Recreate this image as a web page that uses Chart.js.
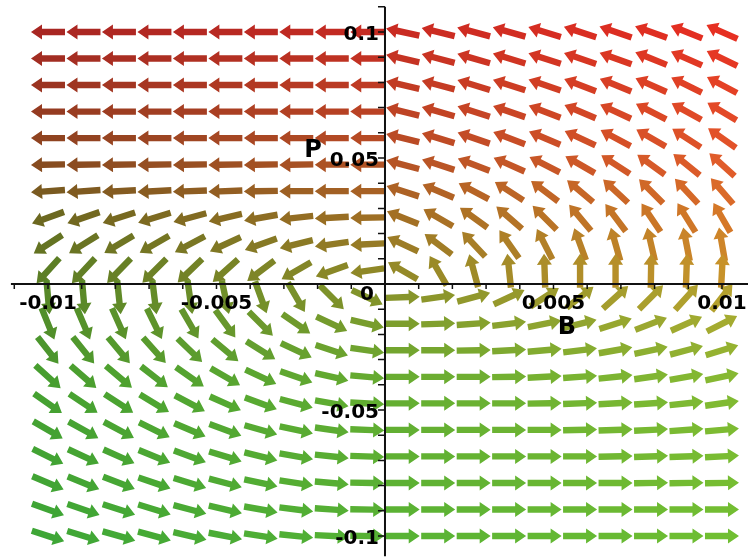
<!DOCTYPE html>
<html>
<head>
<meta charset="utf-8">
<script src="https://cdn.jsdelivr.net/npm/chart.js@4"></script>
<style>
  html, body { margin: 0; padding: 0; background: #ffffff; }
  #wrap { width: 748px; height: 560px; }
</style>
</head>
<body>
<div id="wrap"><canvas id="fieldChart" width="748" height="560"></canvas></div>
<script>
// grid of the direction field (B across, P down from the top)
const bValues = [-0.01, -0.008947, -0.007895, -0.006842, -0.005789, -0.004737, -0.003684, -0.002632, -0.001579, -0.000526,
                 0.000526, 0.001579, 0.002632, 0.003684, 0.004737, 0.005789, 0.006842, 0.007895, 0.008947, 0.01];
const pValues = [0.1, 0.089474, 0.078947, 0.068421, 0.057895, 0.047368, 0.036842, 0.026316, 0.015789, 0.005263,
                 -0.005263, -0.015789, -0.026316, -0.036842, -0.047368, -0.057895, -0.068421, -0.078947, -0.089474, -0.1];

// arrow direction in degrees (0 = right, 90 = up), one row per P value
const arrowAngles = [
  [180, 180, 180, 180, 180, 180, 180, 180, 180, 180, 168, 166, 165, 164, 163, 162, 161, 160, 158, 156],
  [180, 180, 180, 180, 180, 180, 180, 180, 180, 180, 167, 165, 164, 163, 162, 161, 160, 158, 156, 154],
  [180, 180, 180, 180, 180, 180, 180, 180, 180, 180, 167, 165, 163, 162, 161, 159, 158, 156, 154, 152],
  [180, 180, 180, 180, 180, 180, 180, 180, 180, 180, 166, 164, 162, 161, 159, 157, 155, 153, 151, 149],
  [180, 180, 180, 180, 180, 180, 180, 180, 180, 180, 166, 163, 161, 159, 157, 155, 152, 150, 147, 145],
  [181, 181, 181, 181, 181, 181, 181, 181, 180, 180, 165, 162, 159, 156, 153, 150, 147, 144, 141, 138],
  [184, 184, 183, 183, 182, 182, 181, 180, 180, 180, 162, 157, 152, 147, 143, 140, 137, 135, 133, 131],
  [200, 199, 198, 197, 195, 193, 190, 186, 183, 181, 158, 150, 144, 139, 135, 130, 127, 124, 122, 120],
  [213, 212, 211, 210, 208, 205, 200, 194, 188, 183, 155, 143, 133, 125, 117, 110, 106, 103, 101, 100],
  [228, 227, 226, 225, 224, 222, 217, 210, 200, 188, 150, 120, 105,  96,  92,  90,  90,  89,  88,  87],
  [275, 275, 276, 277, 278, 282, 290, 300, 315, 335,   2,   8,  15,  25,  33,  38,  42,  45,  48,  52],
  [292, 293, 294, 296, 300, 306, 315, 325, 335, 347,   0,   2,   4,   7,  11,  14,  18,  21,  24,  27],
  [308, 309, 310, 312, 316, 320, 328, 335, 342, 352,   0,   0,   1,   3,   5,   7,  10,  12,  15,  17],
  [318, 319, 320, 322, 325, 330, 335, 341, 347, 355,   0,   0,   0,   1,   3,   4,   6,   8,  10,  12],
  [325, 326, 327, 329, 332, 336, 340, 345, 350, 357,   0,   0,   0,   0,   1,   2,   3,   4,   6,   8],
  [330, 331, 332, 334, 337, 340, 344, 348, 352, 358,   0,   0,   0,   0,   0,   1,   2,   3,   4,   5],
  [334, 335, 336, 338, 340, 343, 346, 350, 354, 358,   0,   0,   0,   0,   0,   0,   1,   2,   2,   3],
  [337, 338, 339, 341, 343, 345, 348, 351, 355, 359,   0,   0,   0,   0,   0,   0,   0,   1,   1,   1],
  [340, 341, 342, 343, 345, 347, 350, 353, 356, 359,   0,   0,   0,   0,   0,   0,   0,   0,   0,   0],
  [342, 343, 344, 345, 347, 349, 351, 354, 357, 359,   0,   0,   0,   0,   0,   0,   0,   0,   0,   0]
];

const xTickValues = [-0.01, -0.005, 0, 0.005, 0.01];
const xTickLabels = ['-0.01', '-0.005', '0', '0.005', '0.01'];
const yTickValues = [0.1, 0.05, -0.05, -0.1];
const yTickLabels = ['0.1', '0.05', '-0.05', '-0.1'];

const points = [];
pValues.forEach((p, r) => {
    bValues.forEach((b, c) => {
        points.push({ x: b, y: p, angle: arrowAngles[r][c], s: c / (bValues.length - 1), t: 1 - r / (pValues.length - 1) });
    });
});

// colour ramps along P for the left and right edge, blended across B
const leftStops = [[0, [62, 166, 54]], [0.3, [70, 160, 48]], [0.5, [88, 132, 38]], [0.63, [108, 104, 32]], [0.75, [138, 72, 32]], [1, [168, 38, 34]]];
const rightStops = [[0, [112, 190, 50]], [0.3, [130, 186, 50]], [0.45, [172, 168, 48]], [0.53, [200, 145, 42]], [0.65, [215, 115, 40]], [0.75, [225, 88, 42]], [1, [230, 48, 34]]];

function ramp(stops, t) {
    for (let i = 1; i < stops.length; i++) {
        if (t <= stops[i][0]) {
            const [t0, c0] = stops[i - 1];
            const [t1, c1] = stops[i];
            const f = (t - t0) / (t1 - t0);
            return c0.map((v, k) => v + (c1[k] - v) * f);
        }
    }
    return stops[stops.length - 1][1];
}

function arrowColor(s, t) {
    const a = ramp(leftStops, t);
    const b = ramp(rightStops, t);
    const c = a.map((v, k) => Math.round(v + (b[k] - v) * s));
    return `rgb(${c[0]},${c[1]},${c[2]})`;
}

function arrowPath(ctx, len) {
    const h = len / 2, hl = 11, hw = 7.5, sw = 3.2;
    ctx.beginPath();
    ctx.moveTo(-h, -sw);
    ctx.lineTo(h - hl, -sw);
    ctx.lineTo(h - hl, -hw);
    ctx.lineTo(h, 0);
    ctx.lineTo(h - hl, hw);
    ctx.lineTo(h - hl, sw);
    ctx.lineTo(-h, sw);
    ctx.closePath();
}

const arrowsPlugin = {
    id: 'arrows',
    afterDatasetsDraw(chart) {
        const ctx = chart.ctx;
        const meta = chart.getDatasetMeta(0);
        ctx.save();
        ctx.filter = 'blur(0.6px)';
        meta.data.forEach((el, i) => {
            const pt = points[i];
            ctx.save();
            ctx.translate(el.x, el.y);
            ctx.rotate(-pt.angle * Math.PI / 180);
            arrowPath(ctx, 34);
            ctx.fillStyle = arrowColor(pt.s, pt.t);
            ctx.fill();
            ctx.restore();
        });
        ctx.restore();
    }
};

const axesPlugin = {
    id: 'axesThroughOrigin',
    afterDraw(chart) {
        const ctx = chart.ctx;
        const xs = chart.scales.x;
        const ys = chart.scales.y;
        const ox = xs.getPixelForValue(0);
        const oy = ys.getPixelForValue(0);
        ctx.save();
        ctx.strokeStyle = '#111';
        ctx.lineWidth = 2;
        ctx.beginPath();
        ctx.moveTo(xs.getPixelForValue(-0.0111), oy);
        ctx.lineTo(xs.right, oy);
        ctx.moveTo(ox, ys.getPixelForValue(0.11));
        ctx.lineTo(ox, ys.getPixelForValue(-0.108));
        ctx.stroke();

        ctx.lineWidth = 1.5;
        ctx.beginPath();
        for (let k = -11; k <= 10; k++) {
            if (k === 0) continue;
            const px = xs.getPixelForValue(k * 0.001);
            ctx.moveTo(px, oy);
            ctx.lineTo(px, oy + 5);
        }
        for (let k = -10; k <= 11; k++) {
            if (k === 0) continue;
            const py = ys.getPixelForValue(k * 0.01);
            ctx.moveTo(ox - 7, py);
            ctx.lineTo(ox, py);
        }
        ctx.stroke();

        ctx.fillStyle = '#000';
        ctx.font = 'bold 20px "DejaVu Sans"';
        ctx.textBaseline = 'middle';
        xTickValues.forEach((v, i) => {
            if (v === 0) {
                ctx.textAlign = 'right';
                ctx.fillText(xTickLabels[i], ox - 11, oy + 11);
            } else {
                ctx.textAlign = 'center';
                ctx.fillText(xTickLabels[i], xs.getPixelForValue(v), oy + 20);
            }
        });
        ctx.textAlign = 'right';
        yTickValues.forEach((v, i) => {
            ctx.fillText(yTickLabels[i], ox - 6, ys.getPixelForValue(v) + 3);
        });

        ctx.font = 'bold 24px "DejaVu Sans"';
        ctx.textAlign = 'center';
        ctx.fillText('P', ox - 72, ys.getPixelForValue(0.05) - 7);
        ctx.fillText('B', xs.getPixelForValue(0.0054), oy + 44);
        ctx.restore();
    }
};

new Chart(document.getElementById('fieldChart').getContext('2d'), {
    type: 'scatter',
    data: {
        datasets: [{
            data: points,
            pointRadius: 0,
            pointHoverRadius: 0
        }]
    },
    options: {
        responsive: false,
        animation: false,
        devicePixelRatio: 1,
        layout: { padding: 0 },
        scales: {
            x: { type: 'linear', min: -0.011424, max: 0.010772, display: false },
            y: { type: 'linear', min: -0.109524, max: 0.112698, display: false }
        },
        plugins: {
            legend: { display: false },
            tooltip: { enabled: false }
        }
    },
    plugins: [arrowsPlugin, axesPlugin]
});
</script>
</body>
</html>
